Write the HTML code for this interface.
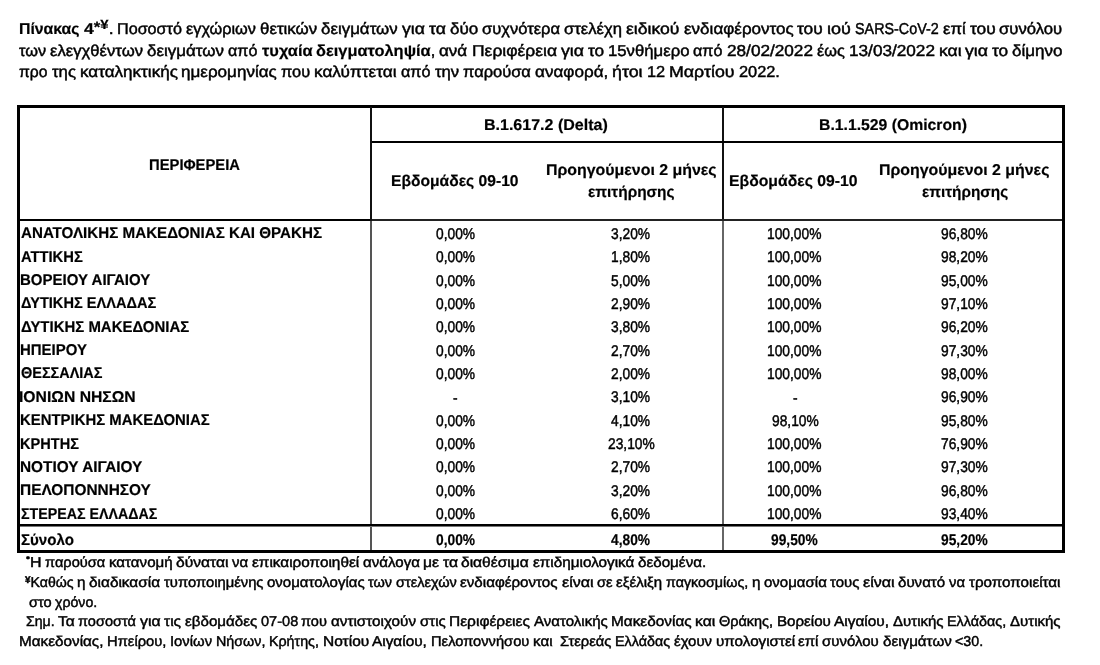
<!DOCTYPE html>
<html lang="el"><head><meta charset="utf-8"><title>Πίνακας 4</title>
<style>
html,body{margin:0;padding:0;background:#fff;}
body{width:1100px;height:665px;position:relative;overflow:hidden;font-family:'Liberation Sans', sans-serif;color:#000;}
.t{position:absolute;line-height:0;white-space:nowrap;transform-origin:0 0;}
body{text-rendering:geometricPrecision;-webkit-text-stroke:0.45px #000;}
b{-webkit-text-stroke-width:0.2px;}
.l{position:absolute;}
</style></head><body>
<div class="l" style="left:17px;top:105px;width:1048px;height:3px;background:#000"></div><div class="l" style="left:17px;top:105px;width:3px;height:448px;background:#000"></div><div class="l" style="left:1062px;top:105px;width:3px;height:448px;background:#000"></div><div class="l" style="left:17px;top:550px;width:1048px;height:3px;background:#000"></div><div class="l" style="left:370px;top:107px;width:2px;height:114px;background:#111"></div><div class="l" style="left:722px;top:107px;width:2px;height:114px;background:#111"></div><div class="l" style="left:372px;top:141px;width:690px;height:2px;background:#000"></div><div class="l" style="left:20px;top:219px;width:350px;height:2px;background:#000"></div><div class="l" style="left:372px;top:219px;width:690px;height:2px;background:#222"></div><div class="l" style="left:370px;top:221px;width:2px;height:329px;background:#555"></div><div class="l" style="left:722px;top:221px;width:2px;height:329px;background:#666"></div><div class="l" style="left:20px;top:524px;width:1042px;height:2px;background:#000"></div><div class="l" style="left:20px;top:526px;width:1042px;height:1px;background:#777"></div>
<div class="t" style="left:19.00px;top:29.93px;transform:scaleX(1.0005);font-size:15.8px;font-weight:400;"><b>Πίνακας</b></div>
<div class="t" style="left:83.56px;top:29.93px;transform:scaleX(1.1147);font-size:15.8px;font-weight:400;"><b>4<span style="position:relative;top:-0.12em;font-size:0.95em;font-weight:700">*</span><span style="position:relative;top:-0.35em;font-size:0.85em;font-weight:700">¥</span></b>.</div>
<div class="t" style="left:117.12px;top:29.93px;transform:scaleX(1.0224);font-size:15.8px;font-weight:400;">Ποσοστό</div>
<div class="t" style="left:186.07px;top:29.93px;transform:scaleX(1.0311);font-size:15.8px;font-weight:400;">εγχώριων</div>
<div class="t" style="left:260.07px;top:29.93px;transform:scaleX(1.0694);font-size:15.8px;font-weight:400;">θετικών</div>
<div class="t" style="left:321.31px;top:29.93px;transform:scaleX(1.0694);font-size:15.8px;font-weight:400;">δειγμάτων</div>
<div class="t" style="left:402.04px;top:29.93px;transform:scaleX(1.1130);font-size:15.8px;font-weight:400;">για</div>
<div class="t" style="left:428.92px;top:29.93px;transform:scaleX(1.1126);font-size:15.8px;font-weight:400;">τα</div>
<div class="t" style="left:449.80px;top:29.93px;transform:scaleX(1.0784);font-size:15.8px;font-weight:400;">δύο</div>
<div class="t" style="left:482.09px;top:29.93px;transform:scaleX(1.0469);font-size:15.8px;font-weight:400;">συχνότερα</div>
<div class="t" style="left:564.15px;top:29.93px;transform:scaleX(1.0531);font-size:15.8px;font-weight:400;">στελέχη</div>
<div class="t" style="left:626.15px;top:29.93px;transform:scaleX(1.1146);font-size:15.8px;font-weight:400;">ειδικού</div>
<div class="t" style="left:683.66px;top:29.93px;transform:scaleX(1.0789);font-size:15.8px;font-weight:400;">ενδιαφέροντος</div>
<div class="t" style="left:797.46px;top:29.93px;transform:scaleX(1.0964);font-size:15.8px;font-weight:400;">του</div>
<div class="t" style="left:827.19px;top:29.93px;transform:scaleX(1.1391);font-size:15.8px;font-weight:400;">ιού</div>
<div class="t" style="left:855.05px;top:29.93px;transform:scaleX(0.9076);font-size:15.8px;font-weight:400;">SARS-CoV-2</div>
<div class="t" style="left:942.73px;top:29.93px;transform:scaleX(1.0616);font-size:15.8px;font-weight:400;">επί</div>
<div class="t" style="left:969.52px;top:29.93px;transform:scaleX(1.0964);font-size:15.8px;font-weight:400;">του</div>
<div class="t" style="left:999.25px;top:29.93px;transform:scaleX(1.0566);font-size:15.8px;font-weight:400;">συνόλου</div>
<div class="t" style="left:19.00px;top:52.40px;transform:scaleX(1.0344);font-size:15.8px;font-weight:400;">των</div>
<div class="t" style="left:50.18px;top:52.40px;transform:scaleX(1.0547);font-size:15.8px;font-weight:400;">ελεγχθέντων</div>
<div class="t" style="left:147.19px;top:52.40px;transform:scaleX(1.0732);font-size:15.8px;font-weight:400;">δειγμάτων</div>
<div class="t" style="left:228.20px;top:52.40px;transform:scaleX(1.0184);font-size:15.8px;font-weight:400;">από</div>
<div class="t" style="left:261.59px;top:52.40px;transform:scaleX(1.0409);font-size:15.8px;font-weight:400;"><b>τυχαία</b></div>
<div class="t" style="left:316.20px;top:52.40px;transform:scaleX(1.0394);font-size:15.8px;font-weight:400;"><b>δειγματοληψία</b>,</div>
<div class="t" style="left:439.47px;top:52.40px;transform:scaleX(1.0781);font-size:15.8px;font-weight:400;">ανά</div>
<div class="t" style="left:471.71px;top:52.40px;transform:scaleX(1.1056);font-size:15.8px;font-weight:400;">Περιφέρεια</div>
<div class="t" style="left:560.77px;top:52.40px;transform:scaleX(1.1170);font-size:15.8px;font-weight:400;">για</div>
<div class="t" style="left:587.75px;top:52.40px;transform:scaleX(1.0911);font-size:15.8px;font-weight:400;">το</div>
<div class="t" style="left:607.94px;top:52.40px;transform:scaleX(1.0584);font-size:15.8px;font-weight:400;">15νθήμερο</div>
<div class="t" style="left:693.43px;top:52.40px;transform:scaleX(1.0184);font-size:15.8px;font-weight:400;">από</div>
<div class="t" style="left:726.82px;top:52.40px;transform:scaleX(1.0875);font-size:15.8px;font-weight:400;">28/02/2022</div>
<div class="t" style="left:816.83px;top:52.40px;transform:scaleX(1.0309);font-size:15.8px;font-weight:400;">έως</div>
<div class="t" style="left:848.69px;top:52.40px;transform:scaleX(1.0875);font-size:15.8px;font-weight:400;">13/03/2022</div>
<div class="t" style="left:938.70px;top:52.40px;transform:scaleX(1.1062);font-size:15.8px;font-weight:400;">και</div>
<div class="t" style="left:965.25px;top:52.40px;transform:scaleX(1.1170);font-size:15.8px;font-weight:400;">για</div>
<div class="t" style="left:992.23px;top:52.40px;transform:scaleX(1.0911);font-size:15.8px;font-weight:400;">το</div>
<div class="t" style="left:1012.42px;top:52.40px;transform:scaleX(1.0790);font-size:15.8px;font-weight:400;">δίμηνο</div>
<div class="t" style="left:19.00px;top:73.35px;transform:scaleX(0.9936);font-size:15.8px;font-weight:400;">προ</div>
<div class="t" style="left:51.54px;top:73.35px;transform:scaleX(1.0574);font-size:15.8px;font-weight:400;">της</div>
<div class="t" style="left:79.54px;top:73.35px;transform:scaleX(1.0801);font-size:15.8px;font-weight:400;">καταληκτικής</div>
<div class="t" style="left:181.48px;top:73.35px;transform:scaleX(1.0796);font-size:15.8px;font-weight:400;">ημερομηνίας</div>
<div class="t" style="left:281.34px;top:73.35px;transform:scaleX(1.0345);font-size:15.8px;font-weight:400;">που</div>
<div class="t" style="left:314.48px;top:73.35px;transform:scaleX(1.0882);font-size:15.8px;font-weight:400;">καλύπτεται</div>
<div class="t" style="left:401.06px;top:73.35px;transform:scaleX(1.0248);font-size:15.8px;font-weight:400;">από</div>
<div class="t" style="left:434.66px;top:73.35px;transform:scaleX(1.0563);font-size:15.8px;font-weight:400;">την</div>
<div class="t" style="left:462.94px;top:73.35px;transform:scaleX(1.0426);font-size:15.8px;font-weight:400;">παρούσα</div>
<div class="t" style="left:534.87px;top:73.35px;transform:scaleX(1.0823);font-size:15.8px;font-weight:400;">αναφορά,</div>
<div class="t" style="left:612.20px;top:73.35px;transform:scaleX(1.1263);font-size:15.8px;font-weight:400;">ήτοι</div>
<div class="t" style="left:646.79px;top:73.35px;transform:scaleX(1.0342);font-size:15.8px;font-weight:400;">12</div>
<div class="t" style="left:669.02px;top:73.35px;transform:scaleX(1.1256);font-size:15.8px;font-weight:400;">Μαρτίου</div>
<div class="t" style="left:738.63px;top:73.35px;transform:scaleX(1.0340);font-size:15.8px;font-weight:400;">2022.</div>
<div class="t" style="left:149.05px;top:166.20px;transform:scaleX(0.9474);font-size:15.6px;font-weight:700;-webkit-text-stroke-width:0.2px;">ΠΕΡΙΦΕΡΕΙΑ</div>
<div class="t" style="left:484.27px;top:126.25px;transform:scaleX(1.0269);font-size:15.6px;font-weight:700;-webkit-text-stroke-width:0.2px;">B.1.617.2 (Delta)</div>
<div class="t" style="left:818.89px;top:126.25px;transform:scaleX(1.0103);font-size:15.6px;font-weight:700;-webkit-text-stroke-width:0.2px;">B.1.1.529 (Omicron)</div>
<div class="t" style="left:390.60px;top:182.30px;transform:scaleX(1.0024);font-size:15.6px;font-weight:700;-webkit-text-stroke-width:0.2px;">Εβδομάδες 09-10</div>
<div class="t" style="left:546.38px;top:171.45px;transform:scaleX(1.0199);font-size:15.6px;font-weight:700;-webkit-text-stroke-width:0.2px;">Προηγούμενοι 2 μήνες</div>
<div class="t" style="left:588.30px;top:192.60px;transform:scaleX(0.9874);font-size:15.6px;font-weight:700;-webkit-text-stroke-width:0.2px;">επιτήρησης</div>
<div class="t" style="left:729.49px;top:182.30px;transform:scaleX(1.0111);font-size:15.6px;font-weight:700;-webkit-text-stroke-width:0.2px;">Εβδομάδες 09-10</div>
<div class="t" style="left:878.98px;top:171.45px;transform:scaleX(1.0187);font-size:15.6px;font-weight:700;-webkit-text-stroke-width:0.2px;">Προηγούμενοι 2 μήνες</div>
<div class="t" style="left:921.80px;top:192.60px;transform:scaleX(0.9828);font-size:15.6px;font-weight:700;-webkit-text-stroke-width:0.2px;">επιτήρησης</div>
<div class="t" style="left:20.50px;top:234.36px;transform:scaleX(0.9728);font-size:15.6px;font-weight:700;-webkit-text-stroke-width:0.2px;">ΑΝΑΤΟΛΙΚΗΣ ΜΑΚΕΔΟΝΙΑΣ ΚΑΙ ΘΡΑΚΗΣ</div>
<div class="t" style="left:435.65px;top:234.95px;transform:scaleX(0.8886);font-size:15.5px;font-weight:400;">0,00%</div>
<div class="t" style="left:611.45px;top:234.95px;transform:scaleX(0.8886);font-size:15.5px;font-weight:400;">3,20%</div>
<div class="t" style="left:767.45px;top:234.95px;transform:scaleX(0.8886);font-size:15.5px;font-weight:400;">100,00%</div>
<div class="t" style="left:941.30px;top:234.95px;transform:scaleX(0.8886);font-size:15.5px;font-weight:400;">96,80%</div>
<div class="t" style="left:20.50px;top:257.71px;transform:scaleX(0.9477);font-size:15.6px;font-weight:700;-webkit-text-stroke-width:0.2px;">ΑΤΤΙΚΗΣ</div>
<div class="t" style="left:435.65px;top:258.30px;transform:scaleX(0.8886);font-size:15.5px;font-weight:400;">0,00%</div>
<div class="t" style="left:611.01px;top:258.30px;transform:scaleX(0.8886);font-size:15.5px;font-weight:400;">1,80%</div>
<div class="t" style="left:767.45px;top:258.30px;transform:scaleX(0.8886);font-size:15.5px;font-weight:400;">100,00%</div>
<div class="t" style="left:941.30px;top:258.30px;transform:scaleX(0.8886);font-size:15.5px;font-weight:400;">98,20%</div>
<div class="t" style="left:19.54px;top:281.07px;transform:scaleX(0.9627);font-size:15.6px;font-weight:700;-webkit-text-stroke-width:0.2px;">ΒΟΡΕΙΟΥ ΑΙΓΑΙΟΥ</div>
<div class="t" style="left:435.65px;top:281.65px;transform:scaleX(0.8886);font-size:15.5px;font-weight:400;">0,00%</div>
<div class="t" style="left:611.45px;top:281.65px;transform:scaleX(0.8886);font-size:15.5px;font-weight:400;">5,00%</div>
<div class="t" style="left:767.45px;top:281.65px;transform:scaleX(0.8886);font-size:15.5px;font-weight:400;">100,00%</div>
<div class="t" style="left:941.30px;top:281.65px;transform:scaleX(0.8886);font-size:15.5px;font-weight:400;">95,00%</div>
<div class="t" style="left:20.50px;top:304.42px;transform:scaleX(0.9359);font-size:15.6px;font-weight:700;-webkit-text-stroke-width:0.2px;">ΔΥΤΙΚΗΣ ΕΛΛΑΔΑΣ</div>
<div class="t" style="left:435.65px;top:305.00px;transform:scaleX(0.8886);font-size:15.5px;font-weight:400;">0,00%</div>
<div class="t" style="left:611.45px;top:305.00px;transform:scaleX(0.8886);font-size:15.5px;font-weight:400;">2,90%</div>
<div class="t" style="left:767.45px;top:305.00px;transform:scaleX(0.8886);font-size:15.5px;font-weight:400;">100,00%</div>
<div class="t" style="left:941.30px;top:305.00px;transform:scaleX(0.8886);font-size:15.5px;font-weight:400;">97,10%</div>
<div class="t" style="left:20.50px;top:327.77px;transform:scaleX(0.9594);font-size:15.6px;font-weight:700;-webkit-text-stroke-width:0.2px;">ΔΥΤΙΚΗΣ ΜΑΚΕΔΟΝΙΑΣ</div>
<div class="t" style="left:435.65px;top:328.35px;transform:scaleX(0.8886);font-size:15.5px;font-weight:400;">0,00%</div>
<div class="t" style="left:611.45px;top:328.35px;transform:scaleX(0.8886);font-size:15.5px;font-weight:400;">3,80%</div>
<div class="t" style="left:767.45px;top:328.35px;transform:scaleX(0.8886);font-size:15.5px;font-weight:400;">100,00%</div>
<div class="t" style="left:941.30px;top:328.35px;transform:scaleX(0.8886);font-size:15.5px;font-weight:400;">96,20%</div>
<div class="t" style="left:19.54px;top:351.12px;transform:scaleX(0.9594);font-size:15.6px;font-weight:700;-webkit-text-stroke-width:0.2px;">ΗΠΕΙΡΟΥ</div>
<div class="t" style="left:435.65px;top:351.70px;transform:scaleX(0.8886);font-size:15.5px;font-weight:400;">0,00%</div>
<div class="t" style="left:611.45px;top:351.70px;transform:scaleX(0.8886);font-size:15.5px;font-weight:400;">2,70%</div>
<div class="t" style="left:767.45px;top:351.70px;transform:scaleX(0.8886);font-size:15.5px;font-weight:400;">100,00%</div>
<div class="t" style="left:941.30px;top:351.70px;transform:scaleX(0.8886);font-size:15.5px;font-weight:400;">97,30%</div>
<div class="t" style="left:20.50px;top:374.48px;transform:scaleX(0.9273);font-size:15.6px;font-weight:700;-webkit-text-stroke-width:0.2px;">ΘΕΣΣΑΛΙΑΣ</div>
<div class="t" style="left:435.65px;top:375.05px;transform:scaleX(0.8886);font-size:15.5px;font-weight:400;">0,00%</div>
<div class="t" style="left:611.45px;top:375.05px;transform:scaleX(0.8886);font-size:15.5px;font-weight:400;">2,00%</div>
<div class="t" style="left:767.45px;top:375.05px;transform:scaleX(0.8886);font-size:15.5px;font-weight:400;">100,00%</div>
<div class="t" style="left:941.30px;top:375.05px;transform:scaleX(0.8886);font-size:15.5px;font-weight:400;">98,00%</div>
<div class="t" style="left:19.49px;top:397.83px;transform:scaleX(1.0079);font-size:15.6px;font-weight:700;-webkit-text-stroke-width:0.2px;">ΙΟΝΙΩΝ ΝΗΣΩΝ</div>
<div class="t" style="left:452.98px;top:399.40px;transform:scaleX(0.8886);font-size:15.5px;font-weight:400;">-</div>
<div class="t" style="left:611.45px;top:398.40px;transform:scaleX(0.8886);font-size:15.5px;font-weight:400;">3,10%</div>
<div class="t" style="left:792.78px;top:399.40px;transform:scaleX(0.8886);font-size:15.5px;font-weight:400;">-</div>
<div class="t" style="left:941.30px;top:398.40px;transform:scaleX(0.8886);font-size:15.5px;font-weight:400;">96,90%</div>
<div class="t" style="left:19.54px;top:421.18px;transform:scaleX(0.9558);font-size:15.6px;font-weight:700;-webkit-text-stroke-width:0.2px;">ΚΕΝΤΡΙΚΗΣ ΜΑΚΕΔΟΝΙΑΣ</div>
<div class="t" style="left:435.65px;top:421.75px;transform:scaleX(0.8886);font-size:15.5px;font-weight:400;">0,00%</div>
<div class="t" style="left:611.45px;top:421.75px;transform:scaleX(0.8886);font-size:15.5px;font-weight:400;">4,10%</div>
<div class="t" style="left:771.90px;top:421.75px;transform:scaleX(0.8886);font-size:15.5px;font-weight:400;">98,10%</div>
<div class="t" style="left:941.30px;top:421.75px;transform:scaleX(0.8886);font-size:15.5px;font-weight:400;">95,80%</div>
<div class="t" style="left:19.57px;top:444.54px;transform:scaleX(0.9339);font-size:15.6px;font-weight:700;-webkit-text-stroke-width:0.2px;">ΚΡΗΤΗΣ</div>
<div class="t" style="left:435.65px;top:445.10px;transform:scaleX(0.8886);font-size:15.5px;font-weight:400;">0,00%</div>
<div class="t" style="left:607.90px;top:445.10px;transform:scaleX(0.8886);font-size:15.5px;font-weight:400;">23,10%</div>
<div class="t" style="left:767.45px;top:445.10px;transform:scaleX(0.8886);font-size:15.5px;font-weight:400;">100,00%</div>
<div class="t" style="left:941.30px;top:445.10px;transform:scaleX(0.8886);font-size:15.5px;font-weight:400;">76,90%</div>
<div class="t" style="left:19.51px;top:467.89px;transform:scaleX(0.9862);font-size:15.6px;font-weight:700;-webkit-text-stroke-width:0.2px;">ΝΟΤΙΟΥ ΑΙΓΑΙΟΥ</div>
<div class="t" style="left:435.65px;top:468.45px;transform:scaleX(0.8886);font-size:15.5px;font-weight:400;">0,00%</div>
<div class="t" style="left:611.45px;top:468.45px;transform:scaleX(0.8886);font-size:15.5px;font-weight:400;">2,70%</div>
<div class="t" style="left:767.45px;top:468.45px;transform:scaleX(0.8886);font-size:15.5px;font-weight:400;">100,00%</div>
<div class="t" style="left:941.30px;top:468.45px;transform:scaleX(0.8886);font-size:15.5px;font-weight:400;">97,30%</div>
<div class="t" style="left:19.51px;top:491.24px;transform:scaleX(0.9885);font-size:15.6px;font-weight:700;-webkit-text-stroke-width:0.2px;">ΠΕΛΟΠΟΝΝΗΣΟΥ</div>
<div class="t" style="left:435.65px;top:491.80px;transform:scaleX(0.8886);font-size:15.5px;font-weight:400;">0,00%</div>
<div class="t" style="left:611.45px;top:491.80px;transform:scaleX(0.8886);font-size:15.5px;font-weight:400;">3,20%</div>
<div class="t" style="left:767.45px;top:491.80px;transform:scaleX(0.8886);font-size:15.5px;font-weight:400;">100,00%</div>
<div class="t" style="left:941.30px;top:491.80px;transform:scaleX(0.8886);font-size:15.5px;font-weight:400;">96,80%</div>
<div class="t" style="left:20.50px;top:514.60px;transform:scaleX(0.9134);font-size:15.6px;font-weight:700;-webkit-text-stroke-width:0.2px;">ΣΤΕΡΕΑΣ ΕΛΛΑΔΑΣ</div>
<div class="t" style="left:435.65px;top:515.15px;transform:scaleX(0.8886);font-size:15.5px;font-weight:400;">0,00%</div>
<div class="t" style="left:611.45px;top:515.15px;transform:scaleX(0.8886);font-size:15.5px;font-weight:400;">6,60%</div>
<div class="t" style="left:767.45px;top:515.15px;transform:scaleX(0.8886);font-size:15.5px;font-weight:400;">100,00%</div>
<div class="t" style="left:941.30px;top:515.15px;transform:scaleX(0.8886);font-size:15.5px;font-weight:400;">93,40%</div>
<div class="t" style="left:20.50px;top:540.55px;transform:scaleX(0.9685);font-size:15.6px;font-weight:700;-webkit-text-stroke-width:0.2px;">Σύνολο</div>
<div class="t" style="left:435.65px;top:540.70px;transform:scaleX(0.8886);font-size:15.5px;font-weight:700;-webkit-text-stroke-width:0.2px;">0,00%</div>
<div class="t" style="left:611.45px;top:540.70px;transform:scaleX(0.8886);font-size:15.5px;font-weight:700;-webkit-text-stroke-width:0.2px;">4,80%</div>
<div class="t" style="left:771.45px;top:540.70px;transform:scaleX(0.8886);font-size:15.5px;font-weight:700;-webkit-text-stroke-width:0.2px;">99,50%</div>
<div class="t" style="left:940.85px;top:540.70px;transform:scaleX(0.8886);font-size:15.5px;font-weight:700;-webkit-text-stroke-width:0.2px;">95,20%</div>
<div class="t" style="left:25.70px;top:563.40px;transform:scaleX(1.1184);font-size:14.3px;font-weight:400;"><span style="position:relative;top:-0.675em;font-size:0.7em;font-weight:700">•</span>Η</div>
<div class="t" style="left:44.78px;top:563.40px;transform:scaleX(1.0224);font-size:14.3px;font-weight:400;">παρούσα</div>
<div class="t" style="left:108.62px;top:563.40px;transform:scaleX(1.0567);font-size:14.3px;font-weight:400;">κατανομή</div>
<div class="t" style="left:175.89px;top:563.40px;transform:scaleX(1.0937);font-size:14.3px;font-weight:400;">δύναται</div>
<div class="t" style="left:232.08px;top:563.40px;transform:scaleX(1.0486);font-size:14.3px;font-weight:400;">να</div>
<div class="t" style="left:251.85px;top:563.40px;transform:scaleX(1.0721);font-size:14.3px;font-weight:400;">επικαιροποιηθεί</div>
<div class="t" style="left:362.61px;top:563.40px;transform:scaleX(1.0550);font-size:14.3px;font-weight:400;">ανάλογα</div>
<div class="t" style="left:423.16px;top:563.40px;transform:scaleX(1.0940);font-size:14.3px;font-weight:400;">με</div>
<div class="t" style="left:442.76px;top:563.40px;transform:scaleX(1.1012);font-size:14.3px;font-weight:400;">τα</div>
<div class="t" style="left:461.47px;top:563.40px;transform:scaleX(1.0882);font-size:14.3px;font-weight:400;">διαθέσιμα</div>
<div class="t" style="left:532.79px;top:563.40px;transform:scaleX(1.0684);font-size:14.3px;font-weight:400;">επιδημιολογικά</div>
<div class="t" style="left:637.76px;top:563.40px;transform:scaleX(1.0621);font-size:14.3px;font-weight:400;">δεδομένα.</div>
<div class="t" style="left:25.10px;top:583.00px;transform:scaleX(0.9884);font-size:14.3px;font-weight:400;"><span style="position:relative;top:-0.425em;font-size:0.7em;font-weight:700">¥</span>Καθώς</div>
<div class="t" style="left:77.30px;top:583.00px;transform:scaleX(1.0663);font-size:14.3px;font-weight:400;">η</div>
<div class="t" style="left:89.36px;top:583.00px;transform:scaleX(1.0764);font-size:14.3px;font-weight:400;">διαδικασία</div>
<div class="t" style="left:164.02px;top:583.00px;transform:scaleX(1.0338);font-size:14.3px;font-weight:400;">τυποποιημένης</div>
<div class="t" style="left:267.07px;top:583.00px;transform:scaleX(1.0505);font-size:14.3px;font-weight:400;">ονοματολογίας</div>
<div class="t" style="left:368.38px;top:583.00px;transform:scaleX(1.0124);font-size:14.3px;font-weight:400;">των</div>
<div class="t" style="left:396.02px;top:583.00px;transform:scaleX(1.0182);font-size:14.3px;font-weight:400;">στελεχών</div>
<div class="t" style="left:460.49px;top:583.00px;transform:scaleX(1.0599);font-size:14.3px;font-weight:400;">ενδιαφέροντος</div>
<div class="t" style="left:561.67px;top:583.00px;transform:scaleX(1.1254);font-size:14.3px;font-weight:400;">είναι</div>
<div class="t" style="left:596.91px;top:583.00px;transform:scaleX(1.0258);font-size:14.3px;font-weight:400;">σε</div>
<div class="t" style="left:616.08px;top:583.00px;transform:scaleX(1.0511);font-size:14.3px;font-weight:400;">εξέλιξη</div>
<div class="t" style="left:665.72px;top:583.00px;transform:scaleX(1.0005);font-size:14.3px;font-weight:400;">παγκοσμίως,</div>
<div class="t" style="left:751.60px;top:583.00px;transform:scaleX(1.0663);font-size:14.3px;font-weight:400;">η</div>
<div class="t" style="left:763.66px;top:583.00px;transform:scaleX(1.0502);font-size:14.3px;font-weight:400;">ονομασία</div>
<div class="t" style="left:830.06px;top:583.00px;transform:scaleX(1.0438);font-size:14.3px;font-weight:400;">τους</div>
<div class="t" style="left:862.97px;top:583.00px;transform:scaleX(1.1254);font-size:14.3px;font-weight:400;">είναι</div>
<div class="t" style="left:898.21px;top:583.00px;transform:scaleX(1.0527);font-size:14.3px;font-weight:400;">δυνατό</div>
<div class="t" style="left:948.94px;top:583.00px;transform:scaleX(1.0404);font-size:14.3px;font-weight:400;">να</div>
<div class="t" style="left:968.56px;top:583.00px;transform:scaleX(1.0611);font-size:14.3px;font-weight:400;">τροποποιείται</div>
<div class="t" style="left:29.00px;top:602.70px;transform:scaleX(1.0223);font-size:14.3px;font-weight:400;">στο</div>
<div class="t" style="left:55.28px;top:602.70px;transform:scaleX(0.9894);font-size:14.3px;font-weight:400;">χρόνο.</div>
<div class="t" style="left:25.60px;top:621.70px;transform:scaleX(0.9894);font-size:14.3px;font-weight:400;">Σημ.</div>
<div class="t" style="left:57.90px;top:621.70px;transform:scaleX(1.0905);font-size:14.3px;font-weight:400;">Τα</div>
<div class="t" style="left:78.35px;top:621.70px;transform:scaleX(1.0175);font-size:14.3px;font-weight:400;">ποσοστά</div>
<div class="t" style="left:139.90px;top:621.70px;transform:scaleX(1.1056);font-size:14.3px;font-weight:400;">για</div>
<div class="t" style="left:164.07px;top:621.70px;transform:scaleX(1.0890);font-size:14.3px;font-weight:400;">τις</div>
<div class="t" style="left:184.79px;top:621.70px;transform:scaleX(1.0587);font-size:14.3px;font-weight:400;">εβδομάδες</div>
<div class="t" style="left:260.65px;top:621.70px;transform:scaleX(1.0180);font-size:14.3px;font-weight:400;">07-08</div>
<div class="t" style="left:301.49px;top:621.70px;transform:scaleX(1.0174);font-size:14.3px;font-weight:400;">που</div>
<div class="t" style="left:330.99px;top:621.70px;transform:scaleX(1.0674);font-size:14.3px;font-weight:400;">αντιστοιχούν</div>
<div class="t" style="left:419.65px;top:621.70px;transform:scaleX(1.0499);font-size:14.3px;font-weight:400;">στις</div>
<div class="t" style="left:449.04px;top:621.70px;transform:scaleX(1.0846);font-size:14.3px;font-weight:400;">Περιφέρειες</div>
<div class="t" style="left:533.57px;top:621.70px;transform:scaleX(1.0521);font-size:14.3px;font-weight:400;">Ανατολικής</div>
<div class="t" style="left:610.98px;top:621.70px;transform:scaleX(1.0745);font-size:14.3px;font-weight:400;">Μακεδονίας</div>
<div class="t" style="left:695.28px;top:621.70px;transform:scaleX(1.0954);font-size:14.3px;font-weight:400;">και</div>
<div class="t" style="left:719.07px;top:621.70px;transform:scaleX(1.0115);font-size:14.3px;font-weight:400;">Θράκης,</div>
<div class="t" style="left:776.79px;top:621.70px;transform:scaleX(1.0575);font-size:14.3px;font-weight:400;">Βορείου</div>
<div class="t" style="left:834.28px;top:621.70px;transform:scaleX(1.0771);font-size:14.3px;font-weight:400;">Αιγαίου,</div>
<div class="t" style="left:892.87px;top:621.70px;transform:scaleX(1.0497);font-size:14.3px;font-weight:400;">Δυτικής</div>
<div class="t" style="left:947.07px;top:621.70px;transform:scaleX(1.0045);font-size:14.3px;font-weight:400;">Ελλάδας,</div>
<div class="t" style="left:1009.92px;top:621.70px;transform:scaleX(1.0497);font-size:14.3px;font-weight:400;">Δυτικής</div>
<div class="t" style="left:19.30px;top:641.50px;transform:scaleX(1.0683);font-size:14.3px;font-weight:400;">Μακεδονίας,</div>
<div class="t" style="left:107.37px;top:641.50px;transform:scaleX(1.0313);font-size:14.3px;font-weight:400;">Ηπείρου,</div>
<div class="t" style="left:170.40px;top:641.50px;transform:scaleX(1.0375);font-size:14.3px;font-weight:400;">Ιονίων</div>
<div class="t" style="left:216.08px;top:641.50px;transform:scaleX(1.0008);font-size:14.3px;font-weight:400;">Νήσων,</div>
<div class="t" style="left:269.12px;top:641.50px;transform:scaleX(0.9961);font-size:14.3px;font-weight:400;">Κρήτης,</div>
<div class="t" style="left:322.62px;top:641.50px;transform:scaleX(1.0831);font-size:14.3px;font-weight:400;">Νοτίου</div>
<div class="t" style="left:372.44px;top:641.50px;transform:scaleX(1.0745);font-size:14.3px;font-weight:400;">Αιγαίου,</div>
<div class="t" style="left:430.90px;top:641.50px;transform:scaleX(1.0264);font-size:14.3px;font-weight:400;">Πελοποννήσου</div>
<div class="t" style="left:532.88px;top:641.50px;transform:scaleX(1.0601);font-size:14.3px;font-weight:400;">και&nbsp;</div>
<div class="t" style="left:560.22px;top:641.50px;transform:scaleX(1.0326);font-size:14.3px;font-weight:400;">Στερεάς</div>
<div class="t" style="left:615.29px;top:641.50px;transform:scaleX(1.0024);font-size:14.3px;font-weight:400;">Ελλάδας</div>
<div class="t" style="left:674.03px;top:641.50px;transform:scaleX(1.0436);font-size:14.3px;font-weight:400;">έχουν</div>
<div class="t" style="left:715.64px;top:641.50px;transform:scaleX(1.0644);font-size:14.3px;font-weight:400;">υπολογιστεί</div>
<div class="t" style="left:798.42px;top:641.50px;transform:scaleX(1.0519);font-size:14.3px;font-weight:400;">επί</div>
<div class="t" style="left:822.46px;top:641.50px;transform:scaleX(1.0473);font-size:14.3px;font-weight:400;">συνόλου</div>
<div class="t" style="left:882.79px;top:641.50px;transform:scaleX(1.0599);font-size:14.3px;font-weight:400;">δειγμάτων</div>
<div class="t" style="left:955.21px;top:641.50px;transform:scaleX(0.9949);font-size:14.3px;font-weight:400;">&lt;30.</div>
</body></html>
